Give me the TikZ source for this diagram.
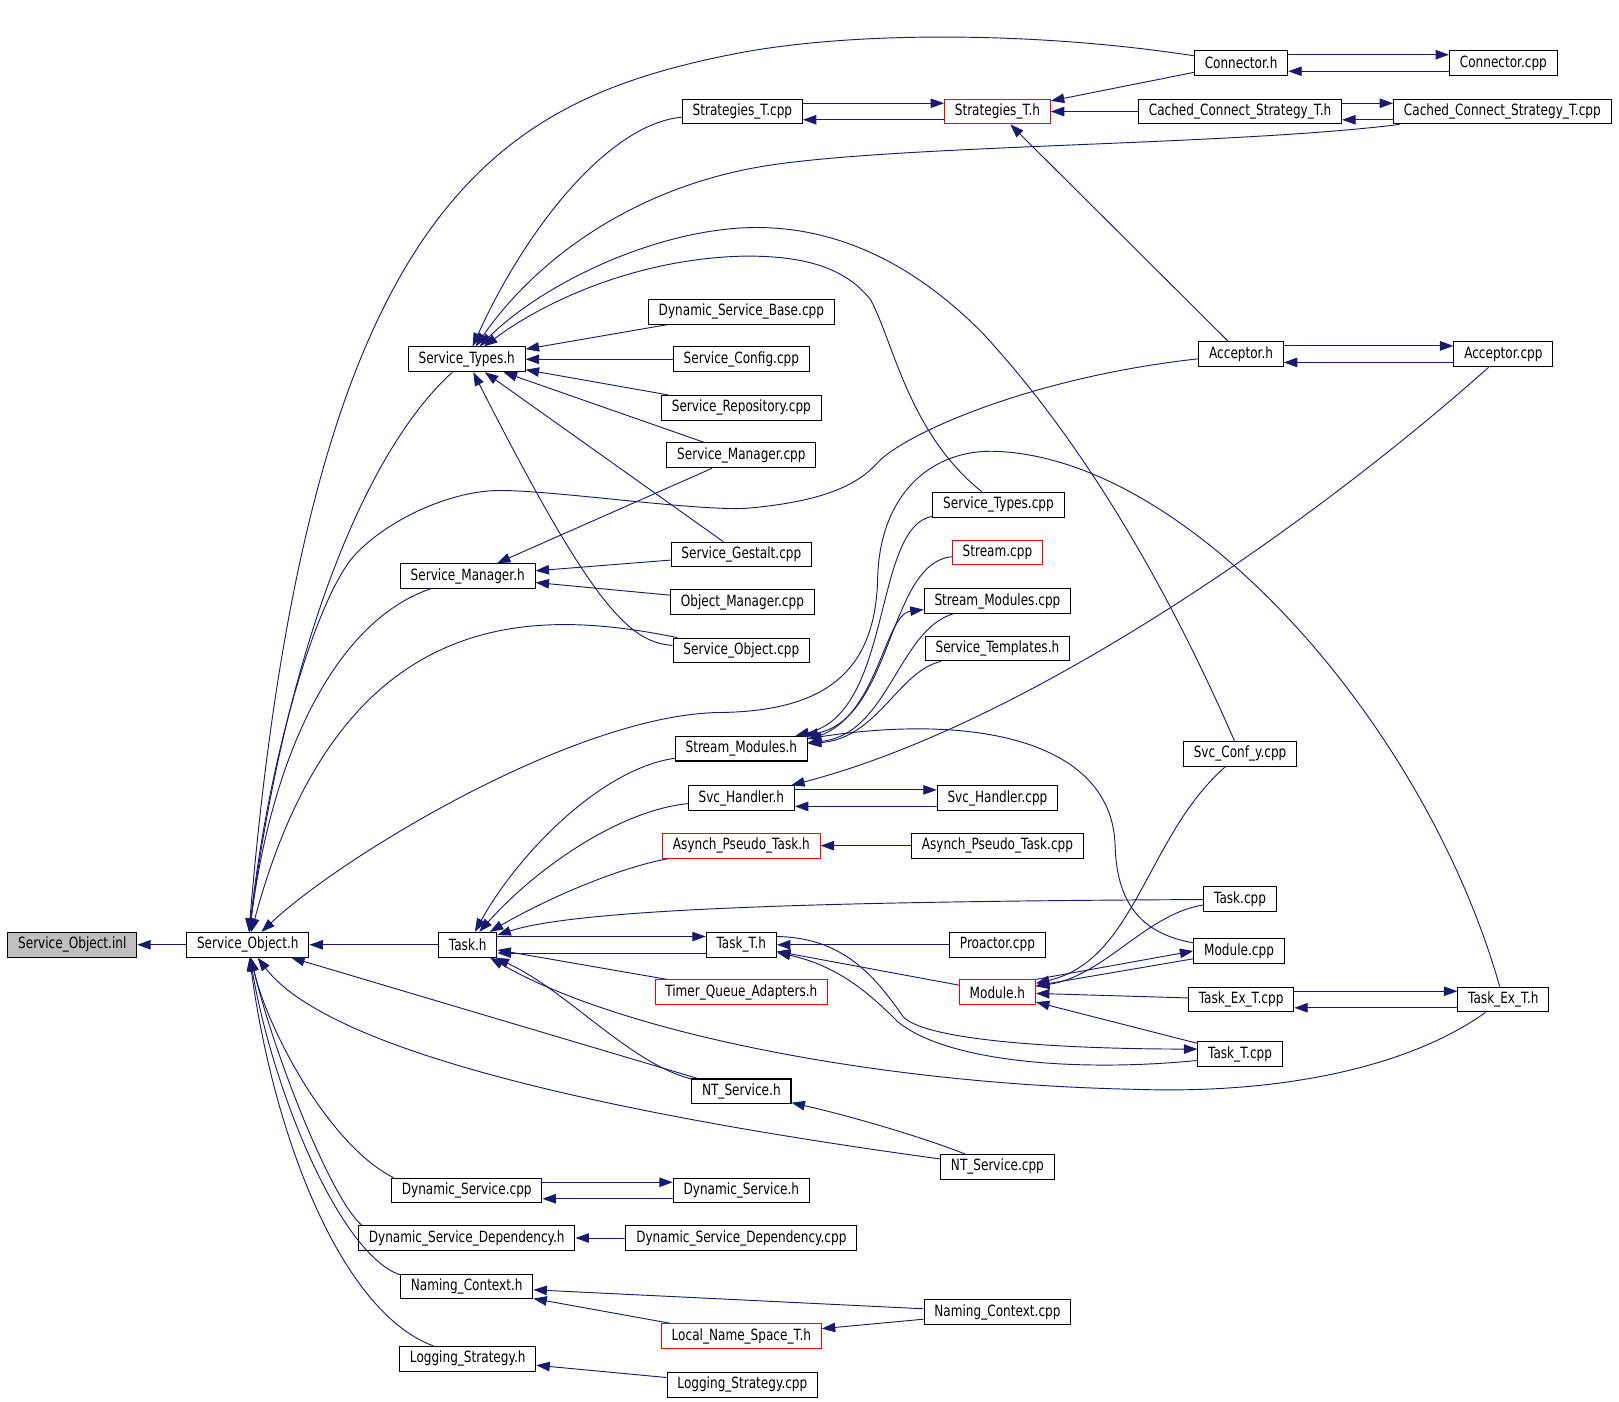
\documentclass[tikz,border=0pt]{standalone}
\usepackage{fontspec}
\setmainfont[FakeStretch=0.78]{DejaVu Sans}
\usepackage{tikz}
\usetikzlibrary{arrows.meta}
\definecolor{edgeblue}{RGB}{25,25,112}
\definecolor{rootgray}{RGB}{191,191,191}

\begin{document}
\begin{tikzpicture}[x=0.5pt,y=-0.5pt,
  >={Triangle[length=6.5pt,width=4.6pt]},
  file/.style={draw=black, line width=0.5pt, inner xsep=5pt, inner ysep=0pt,
    minimum height=12pt, font=\fontsize{7.5}{9}\selectfont},
  redfile/.style={file, draw=red},
  rootfile/.style={file, fill=rootgray},
  inc/.style={->, draw=edgeblue, fill=none, line width=0.45pt}]
  \useasboundingbox (0,0) rectangle (1568,1357);

  \node[rootfile] (soinl) at (70,915) {Service\_Object.inl};
  \node[file] (soh) at (240,915) {Service\_Object.h};
  \node[file] (taskh) at (453,915) {Task.h};
  \node[file] (sth) at (452,348) {Service\_Types.h};
  \node[file] (smh) at (453,558) {Service\_Manager.h};
  \node[file] (strtcpp) at (719,108) {Strategies\_T.cpp};
  \node[redfile] (strth) at (966,108) {Strategies\_T.h};
  \node[file] (conh) at (1202,61) {Connector.h};
  \node[file] (concpp) at (1456,61) {Connector.cpp};
  \node[file] (ccsh) at (1201,108) {Cached\_Connect\_Strategy\_T.h};
  \node[file] (ccscpp) at (1455,108) {Cached\_Connect\_Strategy\_T.cpp};
  \node[file] (dsbcpp) at (718,302) {Dynamic\_Service\_Base.cpp};
  \node[file] (sccpp) at (718,348) {Service\_Config.cpp};
  \node[file] (srcpp) at (718,395) {Service\_Repository.cpp};
  \node[file] (smcpp) at (718,441) {Service\_Manager.cpp};
  \node[file] (sgcpp) at (718,537) {Service\_Gestalt.cpp};
  \node[file] (omcpp) at (719,583) {Object\_Manager.cpp};
  \node[file] (socpp) at (718,630) {Service\_Object.cpp};
  \node[file] (acch) at (1202,343) {Acceptor.h};
  \node[file] (acccpp) at (1456,343) {Acceptor.cpp};
  \node[file] (stcpp) at (967,489) {Service\_Types.cpp};
  \node[redfile] (strcpp) at (966,535) {Stream.cpp};
  \node[file] (smocpp) at (966,582) {Stream\_Modules.cpp};
  \node[file] (stmh) at (966,628) {Service\_Templates.h};
  \node[file] (smoh) at (718,725) {Stream\_Modules.h};
  \node[file] (shh) at (718,773) {Svc\_Handler.h};
  \node[file] (shcpp) at (966,773) {Svc\_Handler.cpp};
  \node[redfile] (apth) at (718,819) {Asynch\_Pseudo\_Task.h};
  \node[file] (aptcpp) at (966,819) {Asynch\_Pseudo\_Task.cpp};
  \node[file] (scycpp) at (1201,730) {Svc\_Conf\_y.cpp};
  \node[file] (taskcpp) at (1201,871) {Task.cpp};
  \node[file] (taskth) at (718,915) {Task\_T.h};
  \node[file] (procpp) at (966,915) {Proactor.cpp};
  \node[redfile] (modh) at (966,961) {Module.h};
  \node[redfile] (tqah) at (718,961) {Timer\_Queue\_Adapters.h};
  \node[file] (modcpp) at (1200,921) {Module.cpp};
  \node[file] (tetcpp) at (1202,968) {Task\_Ex\_T.cpp};
  \node[file] (teth) at (1456,968) {Task\_Ex\_T.h};
  \node[file] (tasktcpp) at (1201,1021) {Task\_T.cpp};
  \node[file] (nth) at (718,1057) {NT\_Service.h};
  \node[file] (ntcpp) at (966,1130) {NT\_Service.cpp};
  \node[file] (dscpp) at (452,1153) {Dynamic\_Service.cpp};
  \node[file] (dsh) at (718,1153) {Dynamic\_Service.h};
  \node[file] (dsdh) at (452,1199) {Dynamic\_Service\_Dependency.h};
  \node[file] (dsdcpp) at (718,1199) {Dynamic\_Service\_Dependency.cpp};
  \node[file] (nch) at (452,1246) {Naming\_Context.h};
  \node[file] (nccpp) at (966,1271) {Naming\_Context.cpp};
  \node[redfile] (lnsh) at (718,1294) {Local\_Name\_Space\_T.h};
  \node[file] (lsh) at (453,1316) {Logging\_Strategy.h};
  \node[file] (lscpp) at (719,1341) {Logging\_Strategy.cpp};

  \draw[inc] (soh) -- (soinl);
  \draw[inc] (taskh) -- (soh);
  \draw[inc] (sth) .. controls (350,440) and (275,640) .. (soh);
  \draw[inc] (smh) .. controls (330,600) and (265,720) .. (soh);
  \draw[inc] (socpp) .. controls (520,590) and (330,580) .. (soh);
  \draw[inc] (conh) .. controls (1000,30) and (820,30) .. (707,53) .. controls (480,99) and (300,200) .. (soh);
  \draw[inc] (acch) .. controls (1000,365) and (875,420) .. (849,449) .. controls (825,476) and (780,487) .. (726,492)
    .. controls (680,496) and (540,475) .. (484,475) .. controls (440,475) and (380,500) .. (345,536)
    .. controls (310,572) and (262,720) .. (soh);
  \draw[inc] (teth) .. controls (1380,700) and (1150,440) .. (960,437) .. controls (900,437) and (852,480) .. (850,560)
    .. controls (848,650) and (800,688) .. (700,690) .. controls (560,690) and (330,830) .. (soh);
  \draw[inc] (nth) -- (soh);
  \draw[inc] (ntcpp) .. controls (600,1080) and (320,1020) .. (soh);
  \draw[inc] (dscpp.170) .. controls (320,1110) and (260,1000) .. (soh);
  \draw[inc] (dsdh.173) .. controls (320,1160) and (265,1020) .. (soh);
  \draw[inc] (nch.170) .. controls (330,1215) and (265,1060) .. (soh);
  \draw[inc] (lsh) .. controls (330,1270) and (265,1100) .. (soh);

  \draw[inc] (strtcpp) .. controls (590,120) and (510,220) .. (sth);
  \draw[inc] (ccscpp) .. controls (1200,140) and (900,140) .. (760,158) .. controls (620,175) and (520,250) .. (sth);
  \draw[inc] (scycpp) .. controls (1140,590) and (1060,440) .. (952,323) .. controls (880,250) and (800,215) .. (714,221)
    .. controls (620,228) and (520,280) .. (sth);
  \draw[inc] (stcpp) .. controls (880,420) and (865,330) .. (843,290) .. controls (815,255) and (770,248) .. (722,248)
    .. controls (620,250) and (530,290) .. (sth);
  \draw[inc] (dsbcpp) -- (sth);
  \draw[inc] (sccpp) -- (sth);
  \draw[inc] (srcpp) -- (sth);
  \draw[inc] (smcpp) -- (sth);
  \draw[inc] (sgcpp) -- (sth);
  \draw[inc] (socpp) .. controls (610,622) and (575,590) .. (sth);

  \draw[inc] (smcpp) -- (smh);
  \draw[inc] (sgcpp) -- (smh);
  \draw[inc] (omcpp) -- (smh);

  \draw[inc] ([yshift=4pt]strtcpp.east) -- ([yshift=4pt]strth.west);
  \draw[inc] ([yshift=-4pt]strth.west) -- ([yshift=-4pt]strtcpp.east);
  \draw[inc] (conh) -- (strth);
  \draw[inc] (ccsh) -- (strth);
  \draw[inc] (acch) -- (strth);
  \draw[inc] ([yshift=4pt]conh.east) -- ([yshift=4pt]concpp.west);
  \draw[inc] ([yshift=-4pt]concpp.west) -- ([yshift=-4pt]conh.east);
  \draw[inc] ([yshift=4pt]ccsh.east) -- ([yshift=4pt]ccscpp.west);
  \draw[inc] ([yshift=-4pt]ccscpp.west) -- ([yshift=-4pt]ccsh.east);
  \draw[inc] ([yshift=4pt]acch.east) -- ([yshift=4pt]acccpp.west);
  \draw[inc] ([yshift=-4pt]acccpp.west) -- ([yshift=-4pt]acch.east);

  \draw[inc] (acccpp) .. controls (1280,500) and (1000,700) .. (shh);
  \draw[inc] ([yshift=4pt]shh.east) -- ([yshift=4pt]shcpp.west);
  \draw[inc] ([yshift=-4pt]shcpp.west) -- ([yshift=-4pt]shh.east);
  \draw[inc] (aptcpp) -- (apth);

  \draw[inc] (stcpp) .. controls (845,510) and (865,690) .. (smoh);
  \draw[inc] (strcpp) .. controls (860,545) and (865,695) .. (smoh);
  \draw[inc] (smoh) .. controls (850,705) and (855,595) .. (smocpp);
  \draw[inc] (smocpp) .. controls (870,610) and (860,712) .. (smoh);
  \draw[inc] (stmh) .. controls (870,650) and (850,715) .. (smoh);
  \draw[inc] (modcpp) .. controls (1110,905) and (1082,880) .. (1080,820) .. controls (1078,720) and (950,690) .. (smoh);

  \draw[inc] (smoh) .. controls (580,745) and (500,830) .. (taskh);
  \draw[inc] (shh) .. controls (600,785) and (520,840) .. (taskh);
  \draw[inc] (apth) .. controls (600,840) and (530,870) .. (taskh);
  \draw[inc] (taskcpp) .. controls (800,873) and (560,880) .. (taskh);
  \draw[inc] ([yshift=4pt]taskh.east) -- ([yshift=4pt]taskth.west);
  \draw[inc] ([yshift=-4pt]taskth.west) -- ([yshift=-4pt]taskh.east);
  \draw[inc] (tqah) -- (taskh);
  \draw[inc] (nth) .. controls (610,1030) and (550,960) .. (taskh);
  \draw[inc] (teth) .. controls (1370,1030) and (1250,1060) .. (1100,1055) .. controls (850,1050) and (600,1000) .. (taskh);

  \draw[inc] (procpp) -- (taskth);
  \draw[inc] (modh) -- (taskth);
  \draw[inc] ([yshift=4pt]taskth.east) .. controls (820,908) and (850,950) .. (875,985)
    .. controls (900,1010) and (1050,1016) .. ([yshift=2.5pt]tasktcpp.west);
  \draw[inc] ([yshift=-3pt]tasktcpp.west) .. controls (1050,1038) and (920,1030) .. (870,990)
    .. controls (840,960) and (810,935) .. (taskth);

  \draw[inc] (scycpp) .. controls (1110,810) and (1100,930) .. (modh);
  \draw[inc] (taskcpp) .. controls (1110,885) and (1070,945) .. (modh);
  \draw[inc] (modh.north east) -- (modcpp.west);
  \draw[inc] (modcpp) -- (modh);
  \draw[inc] (tetcpp) -- (modh);
  \draw[inc] (tasktcpp) -- (modh);
  \draw[inc] ([yshift=4pt]tetcpp.east) -- ([yshift=4pt]teth.west);
  \draw[inc] ([yshift=-4pt]teth.west) -- ([yshift=-4pt]tetcpp.east);

  \draw[inc] (ntcpp) .. controls (890,1100) and (820,1080) .. (nth);
  \draw[inc] ([yshift=4pt]dscpp.east) -- ([yshift=4pt]dsh.west);
  \draw[inc] ([yshift=-4pt]dsh.west) -- ([yshift=-4pt]dscpp.east);
  \draw[inc] (dsdcpp) -- (dsdh);
  \draw[inc] (nccpp) -- (nch);
  \draw[inc] (lnsh) -- (nch);
  \draw[inc] (nccpp) -- (lnsh);
  \draw[inc] (lscpp) -- (lsh);
\end{tikzpicture}
\end{document}
